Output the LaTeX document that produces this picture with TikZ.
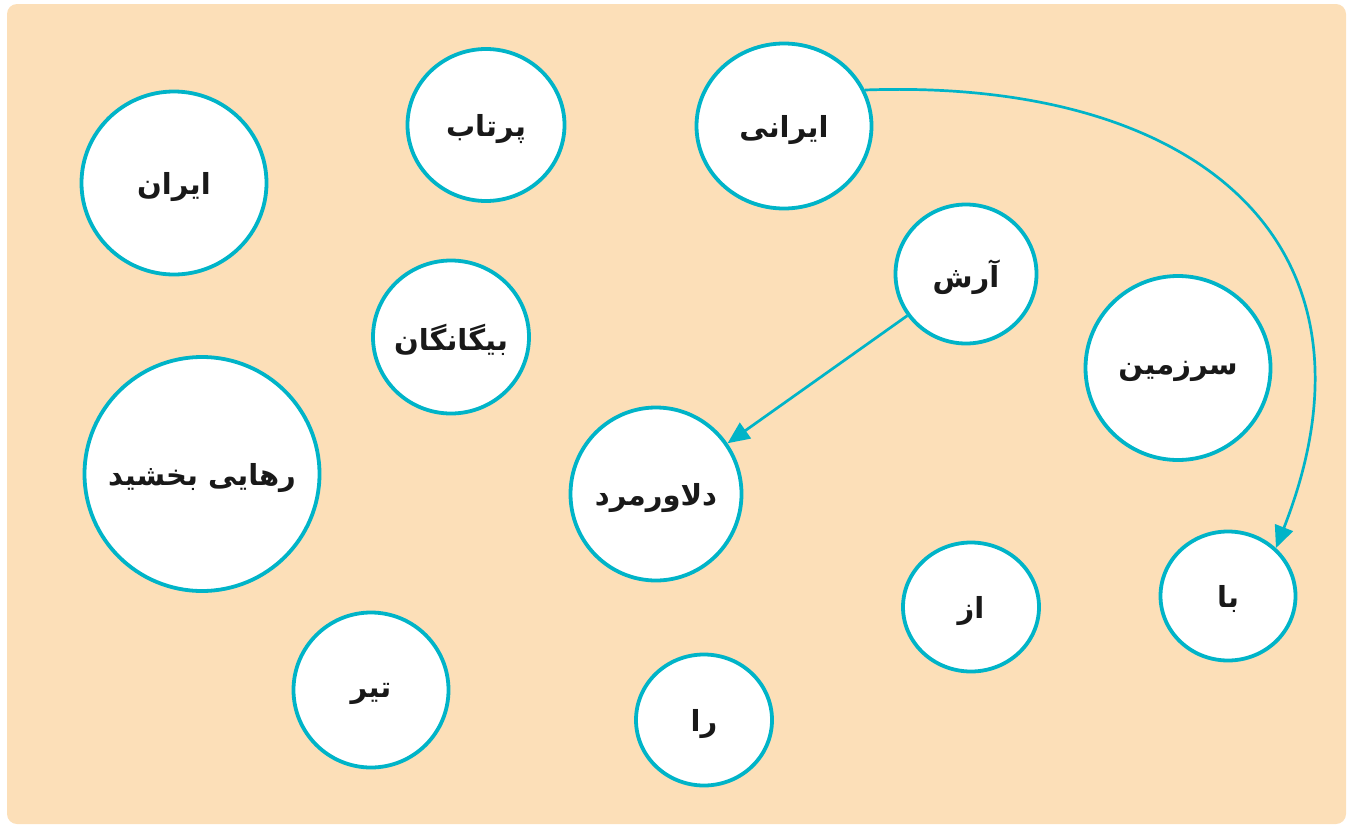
\documentclass[tikz,border=0pt]{standalone}
\usepackage{fontspec}
\usetikzlibrary{arrows.meta,shapes.geometric}
\newfontfamily\fa[Script=Arabic]{DejaVu Sans}
\TeXXeTstate=1
\definecolor{bgc}{HTML}{FCDFB8}
\definecolor{tealc}{HTML}{00B4C8}
\newcommand\fw[1]{\makebox[0pt]{\beginR #1\endR}}
\begin{document}
\begin{tikzpicture}[x=1pt,y=-1pt,
  word/.style={ellipse, draw=tealc, line width=3.8pt, fill=white, inner sep=0pt,
    text depth=0pt, font=\fa\bfseries\fontsize{29}{34}\selectfont, text=black!90},
  link/.style={draw=tealc, line width=2.7pt, -{Triangle[length=22pt,width=19pt]}}]
\useasboundingbox (0,0) rectangle (1349,827);
\fill[bgc, rounded corners=10pt] (7,4) rectangle (1346,824);
\node[word, minimum width=185pt, minimum height=183pt] (iran) at (174,183) {\fw{ایران}};
\node[word, minimum width=157pt, minimum height=152pt] (partab) at (486,125) {\fw{پرتاب}};
\node[word, minimum width=175pt, minimum height=165pt] (irani) at (784,126) {\fw{ایرانی}};
\node[word, minimum width=141pt, minimum height=139pt] (arash) at (966,274) {\fw{آرش}};
\node[word, minimum width=156pt, minimum height=153pt] (bigane) at (451,337) {\fw{بیگانگان}};
\node[word, minimum width=185pt, minimum height=184pt] (sarzamin) at (1178,368) {\fw{سرزمین}};
\node[word, minimum width=235pt, minimum height=234pt] (rahai) at (202,474) {\fw{رهایی بخشید}};
\node[word, minimum width=171pt, minimum height=173pt] (delavar) at (656,494) {\fw{دلاورمرد}};
\node[word, minimum width=136pt, minimum height=129pt] (az) at (971,607) {\fw{از}};
\node[word, minimum width=135pt, minimum height=129pt] (ba) at (1228,596) {\fw{با}};
\node[word, minimum width=155pt, minimum height=155pt] (tir) at (371,690) {\fw{تیر}};
\node[word, minimum width=136pt, minimum height=131pt] (ra) at (704,720) {\fw{را}};
\draw[link] (arash) -- (delavar);
\draw[link] (irani.24) .. controls (1200,78) and (1395,245) .. (ba.45);
\end{tikzpicture}
\end{document}
